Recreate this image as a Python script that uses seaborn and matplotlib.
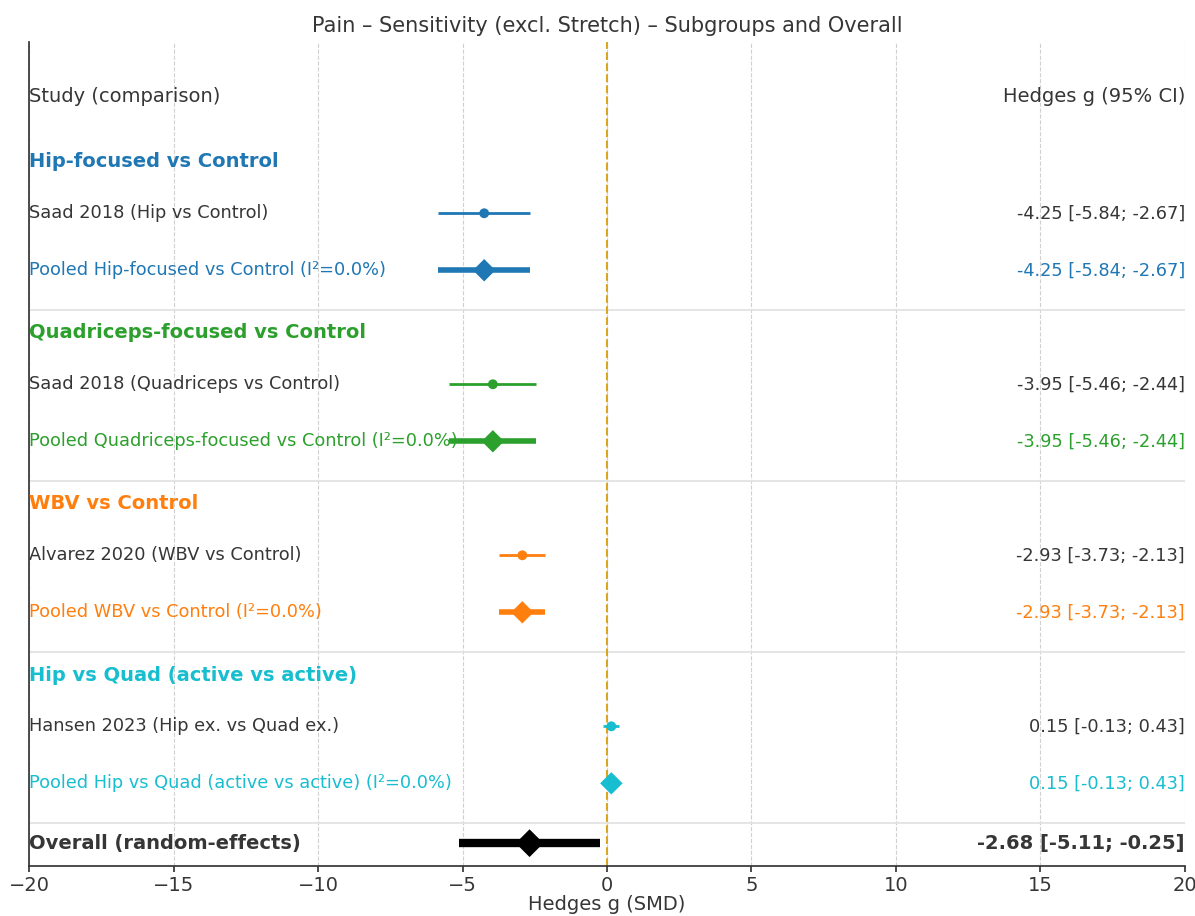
import matplotlib
matplotlib.use("Agg")
import matplotlib.pyplot as plt
import seaborn as sns
import pandas as pd

# Subgroups (one trial each) and their effect sizes
groups = [
    "Hip-focused vs Control",
    "Quadriceps-focused vs Control",
    "WBV vs Control",
    "Hip vs Quad (active vs active)",
]
group_colors = ["#1f77b4", "#2ca02c", "#ff7f0e", "#17becf"]
study_labels = [
    "Saad 2018 (Hip vs Control)",
    "Saad 2018 (Quadriceps vs Control)",
    "Alvarez 2020 (WBV vs Control)",
    "Hansen 2023 (Hip ex. vs Quad ex.)",
]
study_g = [-4.25, -3.95, -2.93, 0.15]
study_lo = [-5.84, -5.46, -3.73, -0.13]
study_hi = [-2.67, -2.44, -2.13, 0.43]

pooled_g = [-4.25, -3.95, -2.93, 0.15]
pooled_lo = [-5.84, -5.46, -3.73, -0.13]
pooled_hi = [-2.67, -2.44, -2.13, 0.43]
pooled_i2 = [0.0, 0.0, 0.0, 0.0]

overall_label = "Overall (random-effects)"
overall_g = -2.68
overall_lo = -5.11
overall_hi = -0.25

sns.set_theme(style="ticks")
plt.rcParams["font.family"] = ["DejaVu Sans"]
TXT = "#363636"
plt.rcParams.update({
    "text.color": TXT, "axes.labelcolor": TXT,
    "xtick.color": TXT, "ytick.color": TXT, "axes.edgecolor": TXT,
})

fig = plt.figure(figsize=(11.95, 9.16), dpi=100)
ax = fig.add_axes([0.0243, 0.0546, 0.9673, 0.8996])

XMIN, XMAX = -20, 20
ROW_FS = 12.8
HEAD_FS = 14

def fmt(g, lo, hi):
    return f"{g:.2f} [{lo:.2f}; {hi:.2f}]"

# Vertical layout in row units, top to bottom
y = 0.0
ax.text(XMIN, y, "Study (comparison)", ha="left", va="center", fontsize=14)
ax.text(XMAX, y, "Hedges g (95% CI)", ha="right", va="center", fontsize=14)

rows = []
sep_rows = []
y += 0.04
for i, grp in enumerate(groups):
    c = group_colors[i]
    y += 1.1
    ax.text(XMIN, y, grp, ha="left", va="center", fontsize=HEAD_FS,
            fontweight="bold", color=c)
    y += 0.9
    ax.text(XMIN, y, study_labels[i], ha="left", va="center", fontsize=ROW_FS)
    ax.text(XMAX, y, fmt(study_g[i], study_lo[i], study_hi[i]),
            ha="right", va="center", fontsize=ROW_FS)
    ax.hlines(y, study_lo[i], study_hi[i], color=c, lw=2, zorder=3)
    rows.append(dict(y=y, g=study_g[i], kind="study", color=c))
    y += 1.0
    ax.text(XMIN, y, f"Pooled {grp} (I²={pooled_i2[i]:.1f}%)",
            ha="left", va="center", fontsize=ROW_FS, color=c)
    ax.text(XMAX, y, fmt(pooled_g[i], pooled_lo[i], pooled_hi[i]),
            ha="right", va="center", fontsize=ROW_FS, color=c)
    ax.hlines(y, pooled_lo[i], pooled_hi[i], color=c, lw=4, zorder=3)
    rows.append(dict(y=y, g=pooled_g[i], kind="pooled", color=c))
    sep_rows.append(y + 0.7)

y += 1.05
ax.text(XMIN, y, overall_label, ha="left", va="center", fontsize=HEAD_FS,
        fontweight="bold")
ax.text(XMAX, y, fmt(overall_g, overall_lo, overall_hi), ha="right",
        va="center", fontsize=HEAD_FS, fontweight="bold")
ax.hlines(y, overall_lo, overall_hi, color="black", lw=6, zorder=3)
rows.append(dict(y=y, g=overall_g, kind="overall", color="black"))

for s in sep_rows:
    ax.axhline(s, color="#e3e3e3", lw=1.3, zorder=1)

df = pd.DataFrame(rows)
for kind, marker, size in [("study", "o", 50), ("pooled", "D", 130), ("overall", "D", 200)]:
    sub = df[df.kind == kind]
    if kind == "overall":
        sns.scatterplot(data=sub, x="g", y="y", marker=marker, s=size,
                        color="black", edgecolor="none", legend=False,
                        zorder=4, ax=ax)
    else:
        sns.scatterplot(data=sub, x="g", y="y", marker=marker, s=size,
                        hue="color", palette={c: c for c in sub.color},
                        edgecolor="none", legend=False, zorder=4, ax=ax)

ax.axvline(0, color="#DAA520", lw=1.5, ls="--", zorder=2)

ax.set_xlim(XMIN, XMAX)
ax.set_ylim(13.49, -0.965)
ax.set_yticks([])
ax.set_ylabel("")
ax.set_xticks(range(-20, 21, 5))
ax.tick_params(axis="x", labelsize=14, length=4, pad=3)
ax.xaxis.grid(True, ls="--", color="#d0d0d0", lw=0.8)
ax.set_axisbelow(True)
ax.set_xlabel("Hedges g (SMD)", fontsize=14, labelpad=0)
ax.set_title("Pain – Sensitivity (excl. Stretch) – Subgroups and Overall",
             fontsize=15, pad=7)
sns.despine(ax=ax)

fig.savefig("out.png", dpi=100)
